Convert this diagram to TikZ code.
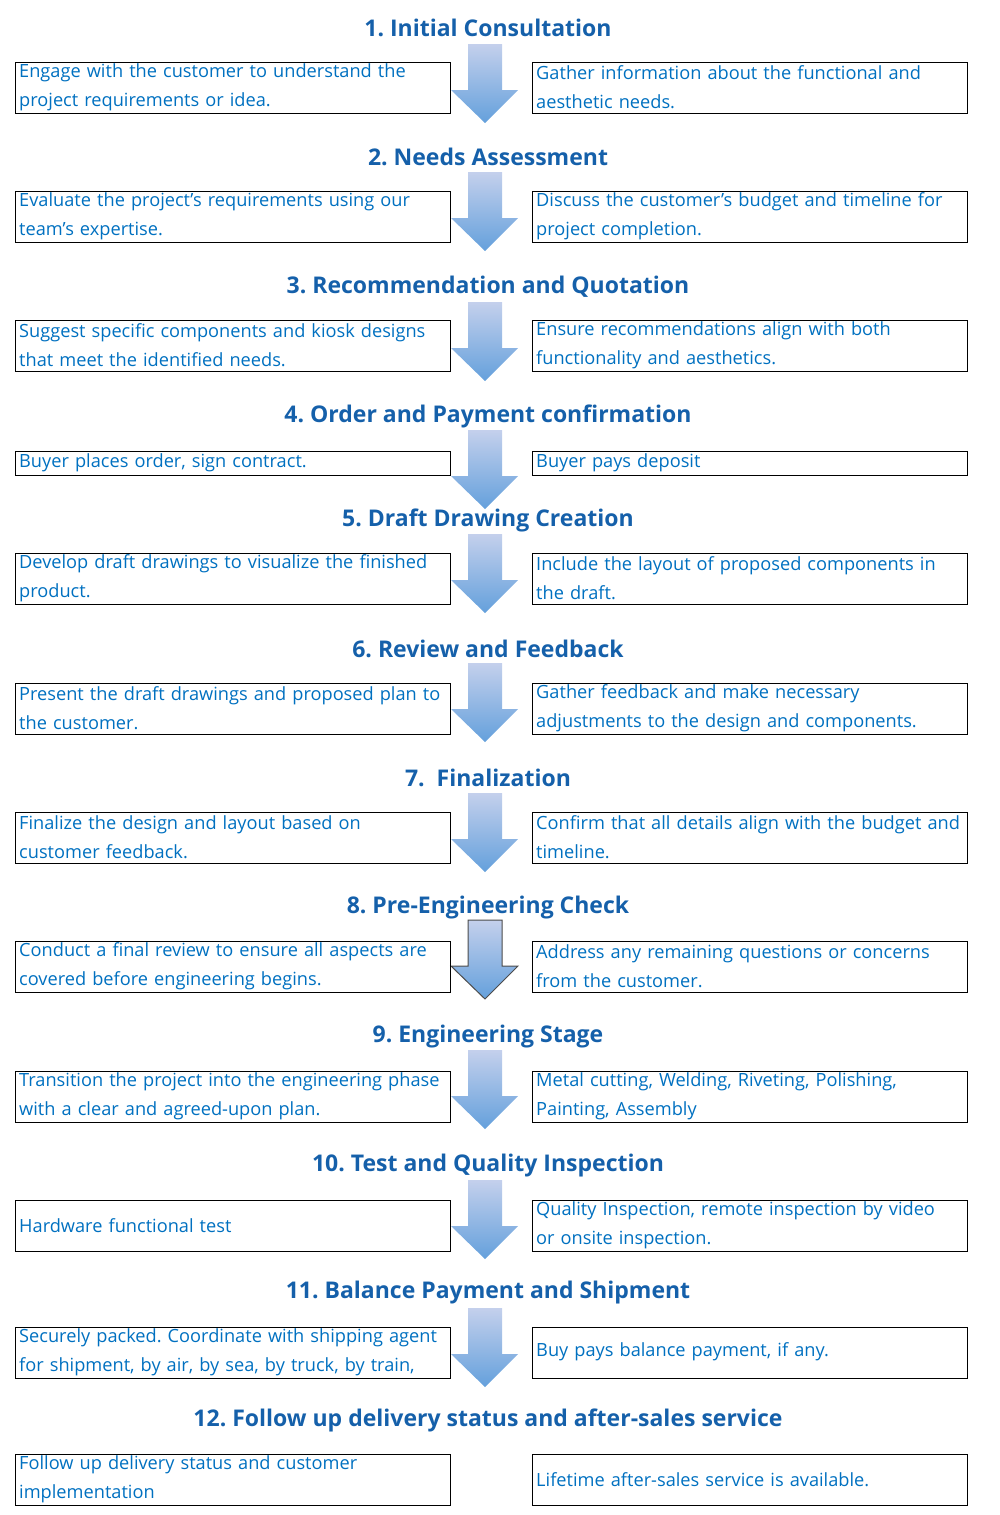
\documentclass[tikz,border=0pt]{standalone}
\usepackage{fontspec}
\setmainfont{Open Sans}
\definecolor{tx}{RGB}{0,112,192}
\definecolor{tt}{RGB}{21,96,170}
\definecolor{atop}{RGB}{196,208,236}
\definecolor{abot}{RGB}{100,160,220}
\frenchspacing
\begin{document}
\begin{tikzpicture}[x=1pt,y=-1pt,
 box/.style={draw=black,line width=1.3pt,minimum width=435pt,minimum height=51pt,anchor=north west,inner sep=0pt},
 txt/.style={text=tx,font=\fontsize{18.2}{29}\selectfont,text width=440pt,align=left,anchor=west,inner sep=0pt},
 ttl/.style={text=tt,font=\bfseries\fontsize{23}{26}\selectfont,inner sep=0pt}]
\useasboundingbox (0,0) rectangle (1000,1515);
\newcommand\arr[2]{\shade[top color=atop,bottom color=abot,#2]
 (468,#1) -- (502,#1) -- (502,#1+46) -- (518,#1+46) -- (485,#1+79) -- (451,#1+46) -- (468,#1+46) -- cycle;}
\newcommand\row[6]{% n,titley,boxy,h,left,right
 \node[ttl] (t#1) at (488,#2) {#3};
 \node[box,minimum height=#5] (l#1) at (15,#4) {};
 \node[box,minimum height=#5] (r#1) at (532,#4) {};
 \node[txt] (lt#1) at ([xshift=4pt,yshift=1pt]l#1.west) {#6};}
\newcommand\rt[2]{\node[txt] (rt#1) at ([xshift=4pt,yshift=1pt]r#1.west) {#2};}
\arr{44}{}\arr{172}{}\arr{302}{}\arr{430}{}\arr{534}{}\arr{663}{}\arr{793}{}
\arr{920}{draw=black!70,line width=1pt}\arr{1050}{}\arr{1180}{}\arr{1308}{}
\row{1}{28}{1. Initial Consultation}{62}{51pt}{Engage with the customer to understand the\\project requirements or idea.}
\rt{1}{Gather information about the functional and\\aesthetic needs.}
\row{2}{157}{2. Needs Assessment}{191}{51pt}{Evaluate the project’s requirements using our\\team’s expertise.}
\rt{2}{Discuss the customer’s budget and timeline for\\project completion.}
\row{3}{287}{3. Recommendation and Quotation}{320}{51pt}{Suggest specific components and kiosk designs\\that meet the identified needs.}
\rt{3}{Ensure recommendations align with both\\functionality and aesthetics.}
\row{4}{416}{4. Order and Payment confirmation}{451}{24pt}{Buyer places order, sign contract.}
\rt{4}{Buyer pays deposit}
\row{5}{520}{5. Draft Drawing Creation}{553}{51pt}{Develop draft drawings to visualize the finished\\product.}
\rt{5}{Include the layout of proposed components in\\the draft.}
\row{6}{649}{6. Review and Feedback}{683}{51pt}{Present the draft drawings and proposed plan to\\the customer.}
\rt{6}{Gather feedback and make necessary\\adjustments to the design and components.}
\row{7}{778}{7.\ \ Finalization}{812}{51pt}{Finalize the design and layout based on\\customer feedback.}
\rt{7}{Confirm that all details align with the budget and\\timeline.}
\row{8}{908}{8. Pre-Engineering Check}{941}{51pt}{Conduct a final review to ensure all aspects are\\covered before engineering begins.}
\rt{8}{Address any remaining questions or concerns\\from the customer.}
\row{9}{1037}{9. Engineering Stage}{1071}{51pt}{Transition the project into the engineering phase\\with a clear and agreed-upon plan.}
\rt{9}{Metal cutting, Welding, Riveting, Polishing,\\Painting, Assembly}
\row{10}{1166}{10. Test and Quality Inspection}{1200}{51pt}{Hardware functional test}
\rt{10}{Quality Inspection, remote inspection by video\\or onsite inspection.}
\row{11}{1293}{11. Balance Payment and Shipment}{1327}{51pt}{Securely packed. Coordinate with shipping agent\\for shipment, by air, by sea, by truck, by train,}
\rt{11}{Buy pays balance payment, if any.}
\row{12}{1420}{12. Follow up delivery status and after-sales service}{1454}{51pt}{Follow up delivery status and customer\\implementation}
\rt{12}{Lifetime after-sales service is available.}
\end{tikzpicture}
\end{document}
